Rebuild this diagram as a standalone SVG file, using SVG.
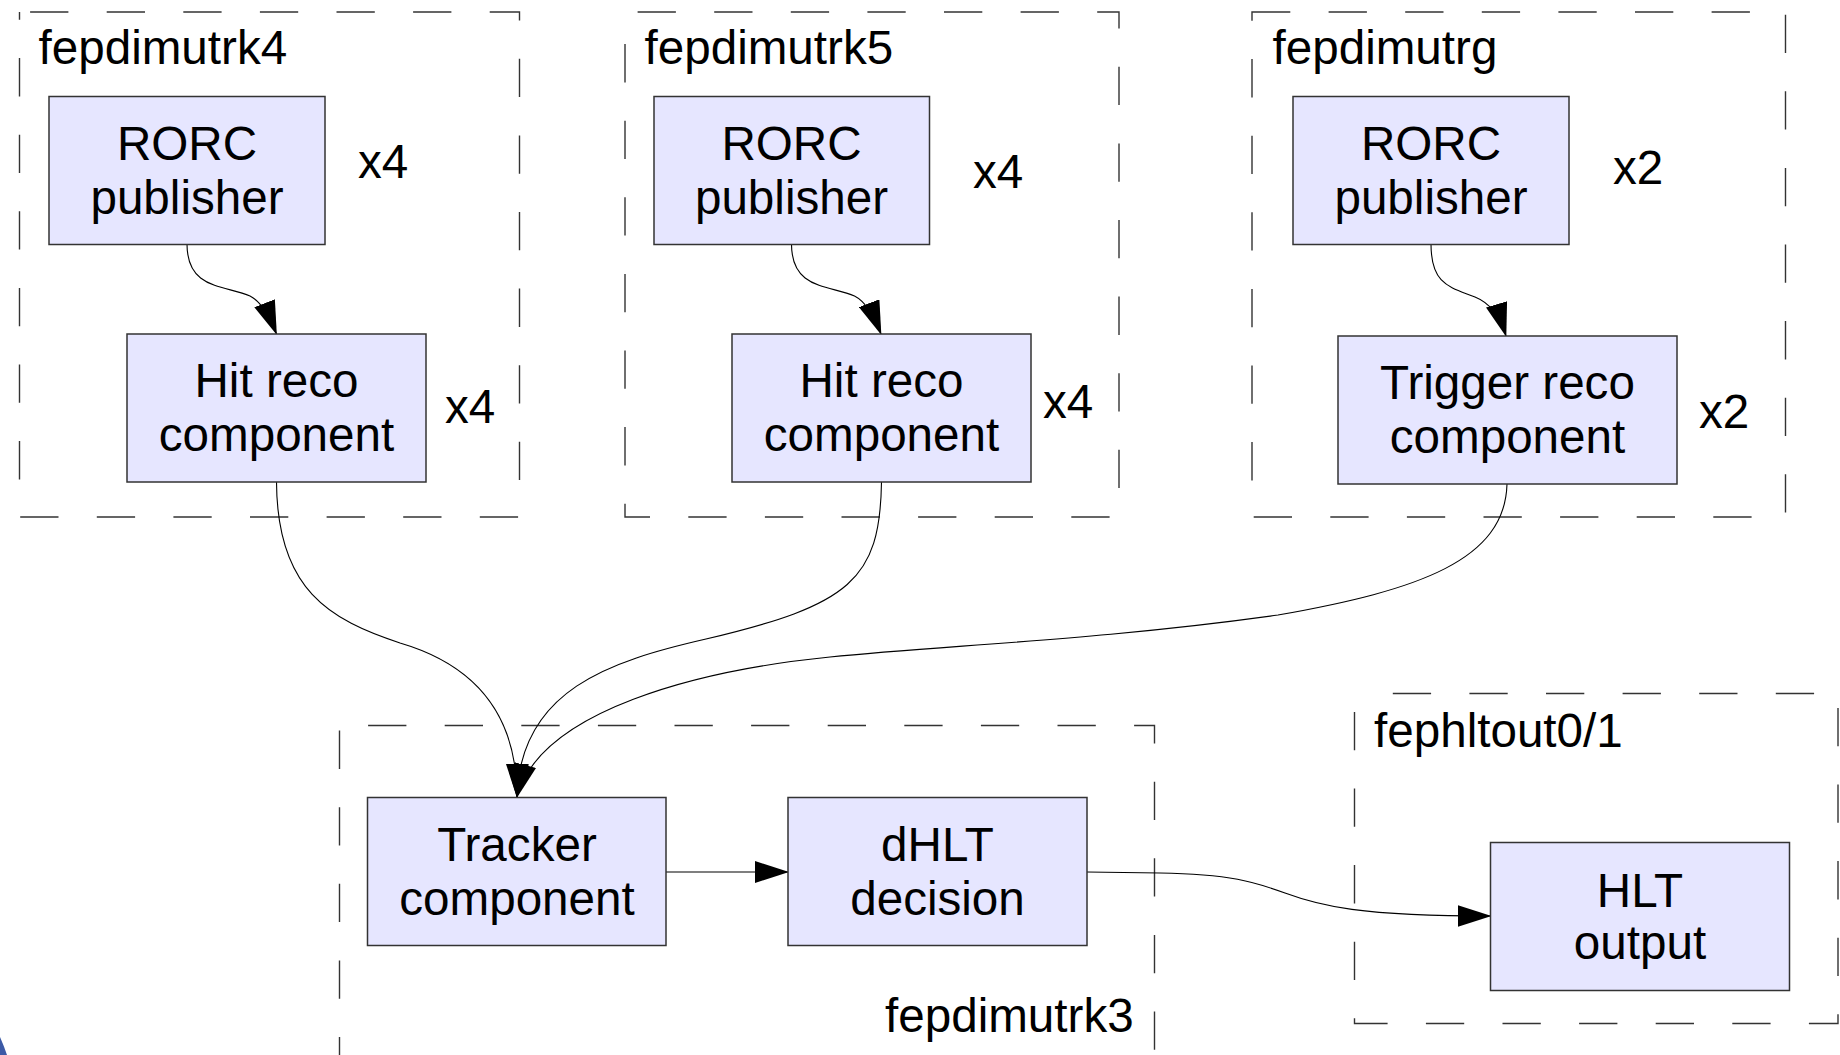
<svg xmlns="http://www.w3.org/2000/svg" width="1840" height="1055" viewBox="0 0 1840 1055">
<style>
.grp{fill:none;stroke:#333;stroke-width:1.4;stroke-dasharray:38.3 38.3}
.box{fill:#e6e6ff;stroke:#333;stroke-width:1.5}
.t{font-family:"Liberation Sans",Arial,sans-serif;font-size:47.6px;fill:#000}
.c{text-anchor:middle}
.con{fill:none;stroke:#000;stroke-width:1.1}
</style>
<defs>
<marker id="ah" markerUnits="userSpaceOnUse" markerWidth="34" markerHeight="22" viewBox="0 0 34 22" refX="33" refY="11" orient="auto">
<path d="M0,0 L34,11 L0,22 Z" fill="#000"/>
</marker>
</defs>
<rect width="1840" height="1055" fill="#fff"/>
<path d="M0,1037 Q4,1046 7,1055 L0,1055 Z" fill="#3c5aa6"/>

<g id="group-fepdimutrk4">
<rect class="grp" x="19.5" y="12" width="500" height="505" style="stroke-dashoffset:66"/>
<text class="t" x="38.5" y="63.5">fepdimutrk4</text>
<text class="t" x="358" y="178">x4</text>
<text class="t" x="445" y="423">x4</text>
</g>
<g id="group-fepdimutrk5">
<rect class="grp" x="625" y="12" width="494" height="505" style="stroke-dashoffset:64"/>
<text class="t" x="644.5" y="63.5">fepdimutrk5</text>
<text class="t" x="973" y="188">x4</text>
<text class="t" x="1043" y="418">x4</text>
</g>
<g id="group-fepdimutrg">
<rect class="grp" x="1252" y="12" width="533.5" height="505" style="stroke-dashoffset:0"/>
<text class="t" x="1272.5" y="63.5">fepdimutrg</text>
<text class="t" x="1613" y="184">x2</text>
<text class="t" x="1699" y="428">x2</text>
</g>
<g id="group-fepdimutrk3">
<rect class="grp" x="339.5" y="725.5" width="815" height="370" style="stroke-dashoffset:48"/>
<text class="t" x="885" y="1032">fepdimutrk3</text>
</g>
<g id="group-fephltout">
<rect class="grp" x="1354.5" y="693.5" width="483.5" height="330" style="stroke-dashoffset:38.3"/>
<text class="t" x="1374" y="747">fephltout0/1</text>
</g>

<g id="connectors">
<path class="con" d="M187,244 C187,290 225,285 250,296 C258,300 268,312 276.5,334" marker-end="url(#ah)"/>
<path class="con" d="M791.5,244 C791.5,290 829.5,285 854.5,296 C862.5,300 872.5,312 881,334" marker-end="url(#ah)"/>
<path class="con" d="M1431,244 C1431,285 1450,287 1475,297 C1490,303 1500,316 1506,336" marker-end="url(#ah)"/>
<path class="con" d="M276.5,482 C277,590 330,620 400,643 C475,665 517,715 517,797" marker-end="url(#ah)"/>
<path class="con" d="M881.5,482 C880,580 850,605 706,639 C610,661 520,690 517,797" marker-end="url(#ah)"/>
<path class="con" d="M1507,484 C1505,560 1420,590 1278,615 C1100,640 950,645 830,657 C700,670 540,710 517,797" marker-end="url(#ah)"/>
<path class="con" d="M666,872 L788,872" marker-end="url(#ah)"/>
<path class="con" d="M1087,872 L1160,873 C1230,874 1255,882 1285,893 C1320,906 1360,916 1490.5,916" marker-end="url(#ah)"/>
</g>

<g id="node-rorc1">
<rect class="box" x="49" y="96.5" width="276" height="148"/>
<text class="t c" x="187" y="159.5">RORC</text>
<text class="t c" x="187" y="213.5">publisher</text>
</g>
<g id="node-hit1">
<rect class="box" x="127" y="334" width="299" height="148"/>
<text class="t c" x="276.5" y="397">Hit reco</text>
<text class="t c" x="276.5" y="451">component</text>
</g>
<g id="node-rorc2">
<rect class="box" x="654" y="96.5" width="275.5" height="148"/>
<text class="t c" x="791.5" y="159.5">RORC</text>
<text class="t c" x="791.5" y="213.5">publisher</text>
</g>
<g id="node-hit2">
<rect class="box" x="732" y="334" width="299" height="148"/>
<text class="t c" x="881.5" y="397">Hit reco</text>
<text class="t c" x="881.5" y="451">component</text>
</g>
<g id="node-rorc3">
<rect class="box" x="1293" y="96.5" width="276" height="148"/>
<text class="t c" x="1431" y="159.5">RORC</text>
<text class="t c" x="1431" y="213.5">publisher</text>
</g>
<g id="node-trigger">
<rect class="box" x="1338" y="336" width="339" height="148"/>
<text class="t c" x="1507.5" y="399">Trigger reco</text>
<text class="t c" x="1507.5" y="453">component</text>
</g>
<g id="node-tracker">
<rect class="box" x="367.5" y="797.5" width="298.5" height="148"/>
<text class="t c" x="517" y="861">Tracker</text>
<text class="t c" x="517" y="915">component</text>
</g>
<g id="node-dhlt">
<rect class="box" x="788" y="797.5" width="299" height="148"/>
<text class="t c" x="937.5" y="861">dHLT</text>
<text class="t c" x="937.5" y="915">decision</text>
</g>
<g id="node-hltout">
<rect class="box" x="1490.5" y="842.5" width="299" height="148"/>
<text class="t c" x="1640" y="906.5">HLT</text>
<text class="t c" x="1640" y="959">output</text>
</g>
</svg>
